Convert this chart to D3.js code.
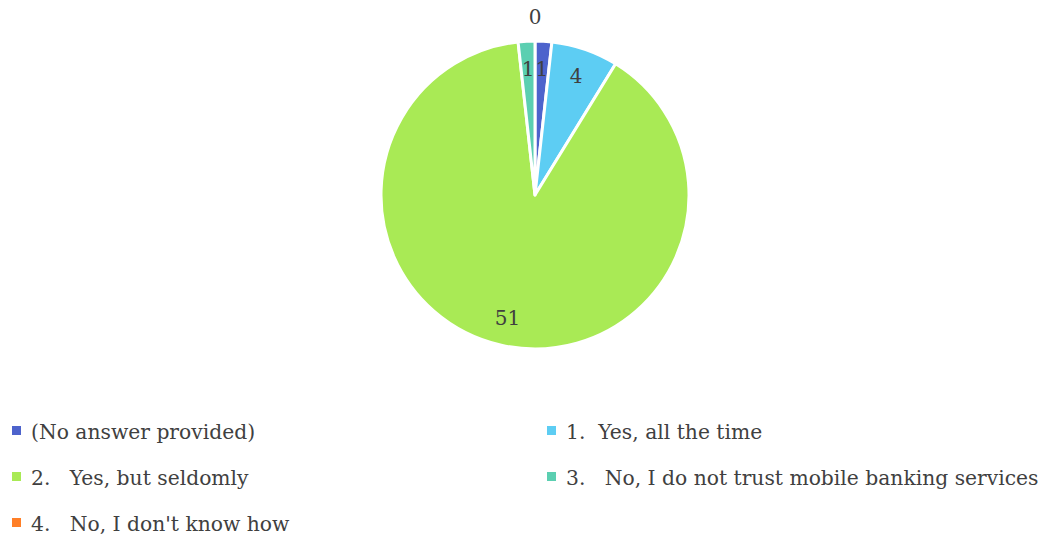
<!DOCTYPE html>
<html>
<head>
<meta charset="utf-8">
<script src="https://cdn.jsdelivr.net/npm/d3@7"></script>
<style>
  body { margin: 0; background: #fff; }
  svg text { font-family: "DejaVu Serif", serif; fill: #404040; }
</style>
</head>
<body>
<svg id="chart"></svg>
<script>
// dados
const categories = [
  "(No answer provided)",
  "1.  Yes, all the time",
  "2.   Yes, but seldomly",
  "3.   No, I do not trust mobile banking services",
  "4.   No, I don't know how"
];
const values = [1, 4, 51, 1, 0];
const colors = ["#4D63CC", "#5DCDF3", "#A9EA55", "#5BCFB1", "#FF7F27"];

const W = 1051, H = 538;
const cx = 535, cy = 195, radius = 154;

const svg = d3.select("#chart")
  .attr("width", W)
  .attr("height", H);

const data = categories.map((c, i) => ({ name: c, value: values[i], color: colors[i] }));

const pie = d3.pie()
  .sort(null)
  .value(d => d.value);

const arcs = pie(data);

const arc = d3.arc()
  .innerRadius(0)
  .outerRadius(radius);

const labelArc = d3.arc()
  .innerRadius(radius * 0.82)
  .outerRadius(radius * 0.82);

const outArc = d3.arc()
  .innerRadius(radius + 24)
  .outerRadius(radius + 24);

const g = svg.append("g")
  .attr("transform", `translate(${cx},${cy})`);

// fatias
g.selectAll("path")
  .data(arcs.filter(d => d.value > 0))
  .enter()
  .append("path")
    .attr("d", arc)
    .attr("fill", d => d.data.color)
    .attr("stroke", "#fff")
    .attr("stroke-width", 3)
    .attr("stroke-linejoin", "round");

// rótulos dos valores
g.selectAll("text.val")
  .data(arcs)
  .enter()
  .append("text")
    .attr("class", "val")
    .attr("transform", d => `translate(${(d.value > 0 ? labelArc : outArc).centroid(d)})`)
    .attr("text-anchor", "middle")
    .attr("dy", "0.35em")
    .style("font-size", "20px")
    .text(d => d.value);

// legenda
const legendX = [12, 547];
const legendY = [432, 478, 524];

const legend = svg.selectAll("g.legend")
  .data(data)
  .enter()
  .append("g")
    .attr("class", "legend")
    .attr("transform", (d, i) => `translate(${legendX[i % 2]},${legendY[Math.floor(i / 2)]})`);

legend.append("rect")
  .attr("x", 0)
  .attr("y", -6)
  .attr("width", 9)
  .attr("height", 9)
  .attr("fill", d => d.color);

legend.append("text")
  .attr("x", 19)
  .attr("y", 0)
  .attr("dy", "0.35em")
  .style("font-size", "20.3px")
  .style("white-space", "pre")
  .attr("xml:space", "preserve")
  .text(d => d.name);
</script>
</body>
</html>
